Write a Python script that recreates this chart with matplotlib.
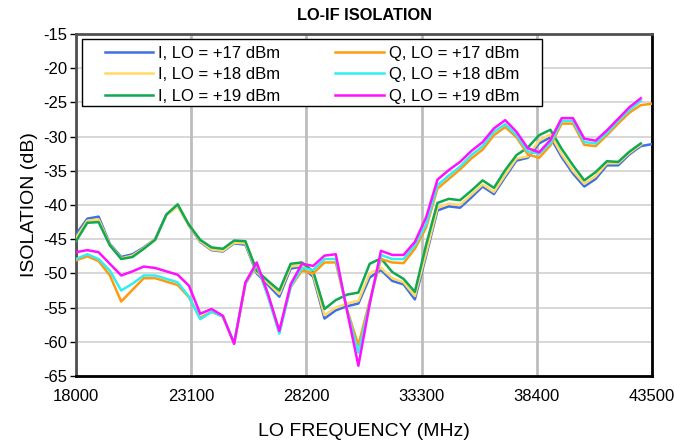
import numpy as np
import matplotlib
matplotlib.use('Agg')
import matplotlib.pyplot as plt
from matplotlib.patches import Rectangle

plt.rcParams['font.family'] = ['Liberation Sans', 'DejaVu Sans']
plt.rcParams['axes.unicode_minus'] = False

# LO frequency grid, 500 MHz step
freq = np.arange(18000, 43501, 500)

i_17 = [-44.3, -42.0, -41.7, -45.7, -47.6, -47.2, -46.2, -45.0, -41.4, -40.1,
        -43.0, -45.4, -46.6, -46.8, -45.6, -45.8, -50.0, -51.7, -53.4, -49.3,
        -49.0, -50.5, -56.6, -55.4, -54.8, -54.4, -50.6, -49.5, -51.1, -51.6,
        -53.8, -47.4, -40.8, -40.2, -40.4, -38.9, -37.3, -38.4, -35.9, -33.5,
        -33.1, -31.0, -30.1, -33.0, -35.4, -37.3, -36.2, -34.2, -34.2, -32.6,
        -31.4, -31.1]
i_18 = [-44.8, -42.3, -42.1, -45.8, -47.8, -47.4, -46.3, -45.0, -41.5, -40.2,
        -43.0, -45.3, -46.5, -46.7, -45.5, -45.6, -49.8, -51.4, -53.0, -49.0,
        -48.8, -50.2, -56.1, -55.0, -54.4, -54.0, -50.0, -49.2, -50.7, -51.3,
        -53.3, -47.0, -40.4, -39.8, -40.0, -38.5, -37.0, -38.1, -35.6, -33.2,
        -32.9, -30.6, -29.7, -32.6, -35.0, -36.9, -35.8, -33.9, -33.9, -32.4,
        -31.2]
i_19 = [-45.3, -42.6, -42.5, -45.9, -47.9, -47.6, -46.4, -45.1, -41.4, -39.9,
        -42.9, -45.1, -46.2, -46.4, -45.2, -45.3, -49.6, -51.1, -52.5, -48.6,
        -48.4, -49.7, -55.2, -53.9, -53.1, -52.8, -48.6, -47.8, -49.8, -50.8,
        -52.7, -45.8, -39.7, -39.1, -39.3, -37.9, -36.4, -37.5, -34.9, -32.7,
        -31.6, -29.8, -29.0, -31.8, -34.2, -36.4, -35.2, -33.6, -33.7, -32.2,
        -31.0]
q_17 = [-48.1, -47.5, -48.2, -50.3, -54.1, -52.4, -50.7, -50.7, -51.2, -51.7,
        -53.5, -56.5, -55.6, -56.3, -60.2, -51.5, -48.8, -53.3, -58.6, -52.0,
        -49.6, -50.0, -48.4, -48.4, -55.3, -60.5, -54.0, -47.9, -48.4, -48.5,
        -46.4, -43.3, -37.6, -36.2, -34.8, -33.2, -31.9, -29.8, -28.6, -30.1,
        -32.6, -33.1, -31.3, -28.1, -28.1, -31.2, -31.4, -29.8, -28.1, -26.5,
        -25.4, -25.2]
q_18 = [-47.9, -47.2, -47.9, -49.6, -52.5, -51.5, -50.3, -50.3, -50.8, -51.3,
        -53.4, -56.7, -55.6, -56.3, -60.1, -51.5, -48.6, -53.4, -58.8, -52.0,
        -49.2, -49.5, -47.9, -47.9, -55.4, -61.6, -54.3, -47.3, -47.9, -47.9,
        -45.9, -42.8, -37.1, -35.7, -34.4, -32.7, -31.4, -29.3, -28.2, -29.8,
        -32.2, -32.5, -31.0, -27.7, -27.7, -30.8, -31.0, -29.5, -27.7, -26.1,
        -24.8]
q_19 = [-46.9, -46.6, -46.9, -48.6, -50.3, -49.7, -49.0, -49.2, -49.7, -50.2,
        -51.8, -55.9, -55.2, -56.2, -60.3, -51.3, -48.4, -53.0, -58.4, -51.6,
        -48.6, -48.9, -47.4, -47.2, -55.5, -63.5, -54.5, -46.7, -47.3, -47.3,
        -45.4, -41.8, -36.3, -34.9, -33.7, -32.1, -30.8, -28.8, -27.6, -29.3,
        -31.7, -32.3, -30.5, -27.3, -27.3, -30.3, -30.6, -29.1, -27.4, -25.7,
        -24.4]

# legend order: I column first, then Q column
series = [
    ('I, LO = +17 dBm', i_17, '#3f6fe6'),
    ('I, LO = +18 dBm', i_18, '#ffd966'),
    ('I, LO = +19 dBm', i_19, '#10a850'),
    ('Q, LO = +17 dBm', q_17, '#ff9a10'),
    ('Q, LO = +18 dBm', q_18, '#33eeee'),
    ('Q, LO = +19 dBm', q_19, '#ff10ff'),
]
x_ticks = [18000, 23100, 28200, 33300, 38400, 43500]
y_ticks = list(range(-65, -14, 5))

fig = plt.figure(figsize=(6.75, 4.43), dpi=100)
ax = fig.add_axes([0.1126, 0.1512, 0.8534, 0.7721])

handles = []
for k, (label, vals, col) in enumerate(series):
    h, = ax.plot(freq[:len(vals)], vals, color=col, lw=1.8, label=label,
                 zorder=3 + k)
    handles.append(h)

ax.set_xlim(18000, 43500)
ax.set_ylim(-65, -15)
ax.set_xticks(x_ticks)
ax.set_yticks(y_ticks)
ax.tick_params(axis='x', length=0, pad=9, labelsize=12)
ax.tick_params(axis='y', length=4, width=1, direction='out', labelsize=12, pad=2)

for y in y_ticks:
    ax.axhline(y, color='#d4d4d4', lw=1.3, zorder=1)
for x in x_ticks:
    ax.axvline(x, color='#bdbdbd', lw=2.0, zorder=1)

for s in ['left', 'top']:
    ax.spines[s].set_color('#505050')
    ax.spines[s].set_linewidth(2)
for s in ['bottom', 'right']:
    ax.spines[s].set_color('black')
    ax.spines[s].set_linewidth(2)

ax.set_title('LO-IF ISOLATION', fontsize=11.8, fontweight='bold', pad=10)
ax.set_xlabel('LO FREQUENCY (MHz)', fontsize=14, labelpad=14)
ax.set_ylabel('ISOLATION (dB)', fontsize=14, labelpad=4)

# legend box drawn separately so it can be wider than the entries
ax.add_patch(Rectangle((0.0104, 0.789), 0.7986, 0.196, transform=ax.transAxes,
                       facecolor='white', edgecolor='black', lw=1, zorder=9))
leg = ax.legend(handles, [s[0] for s in series],
                ncol=2, loc='upper left', bbox_to_anchor=(0.05, 0.966),
                fontsize=12, frameon=False, handlelength=2.9,
                columnspacing=3.3, labelspacing=0.4, borderpad=0,
                handletextpad=0.3, borderaxespad=0)
leg.set_zorder(10)

fig.savefig('out.png', dpi=100)
